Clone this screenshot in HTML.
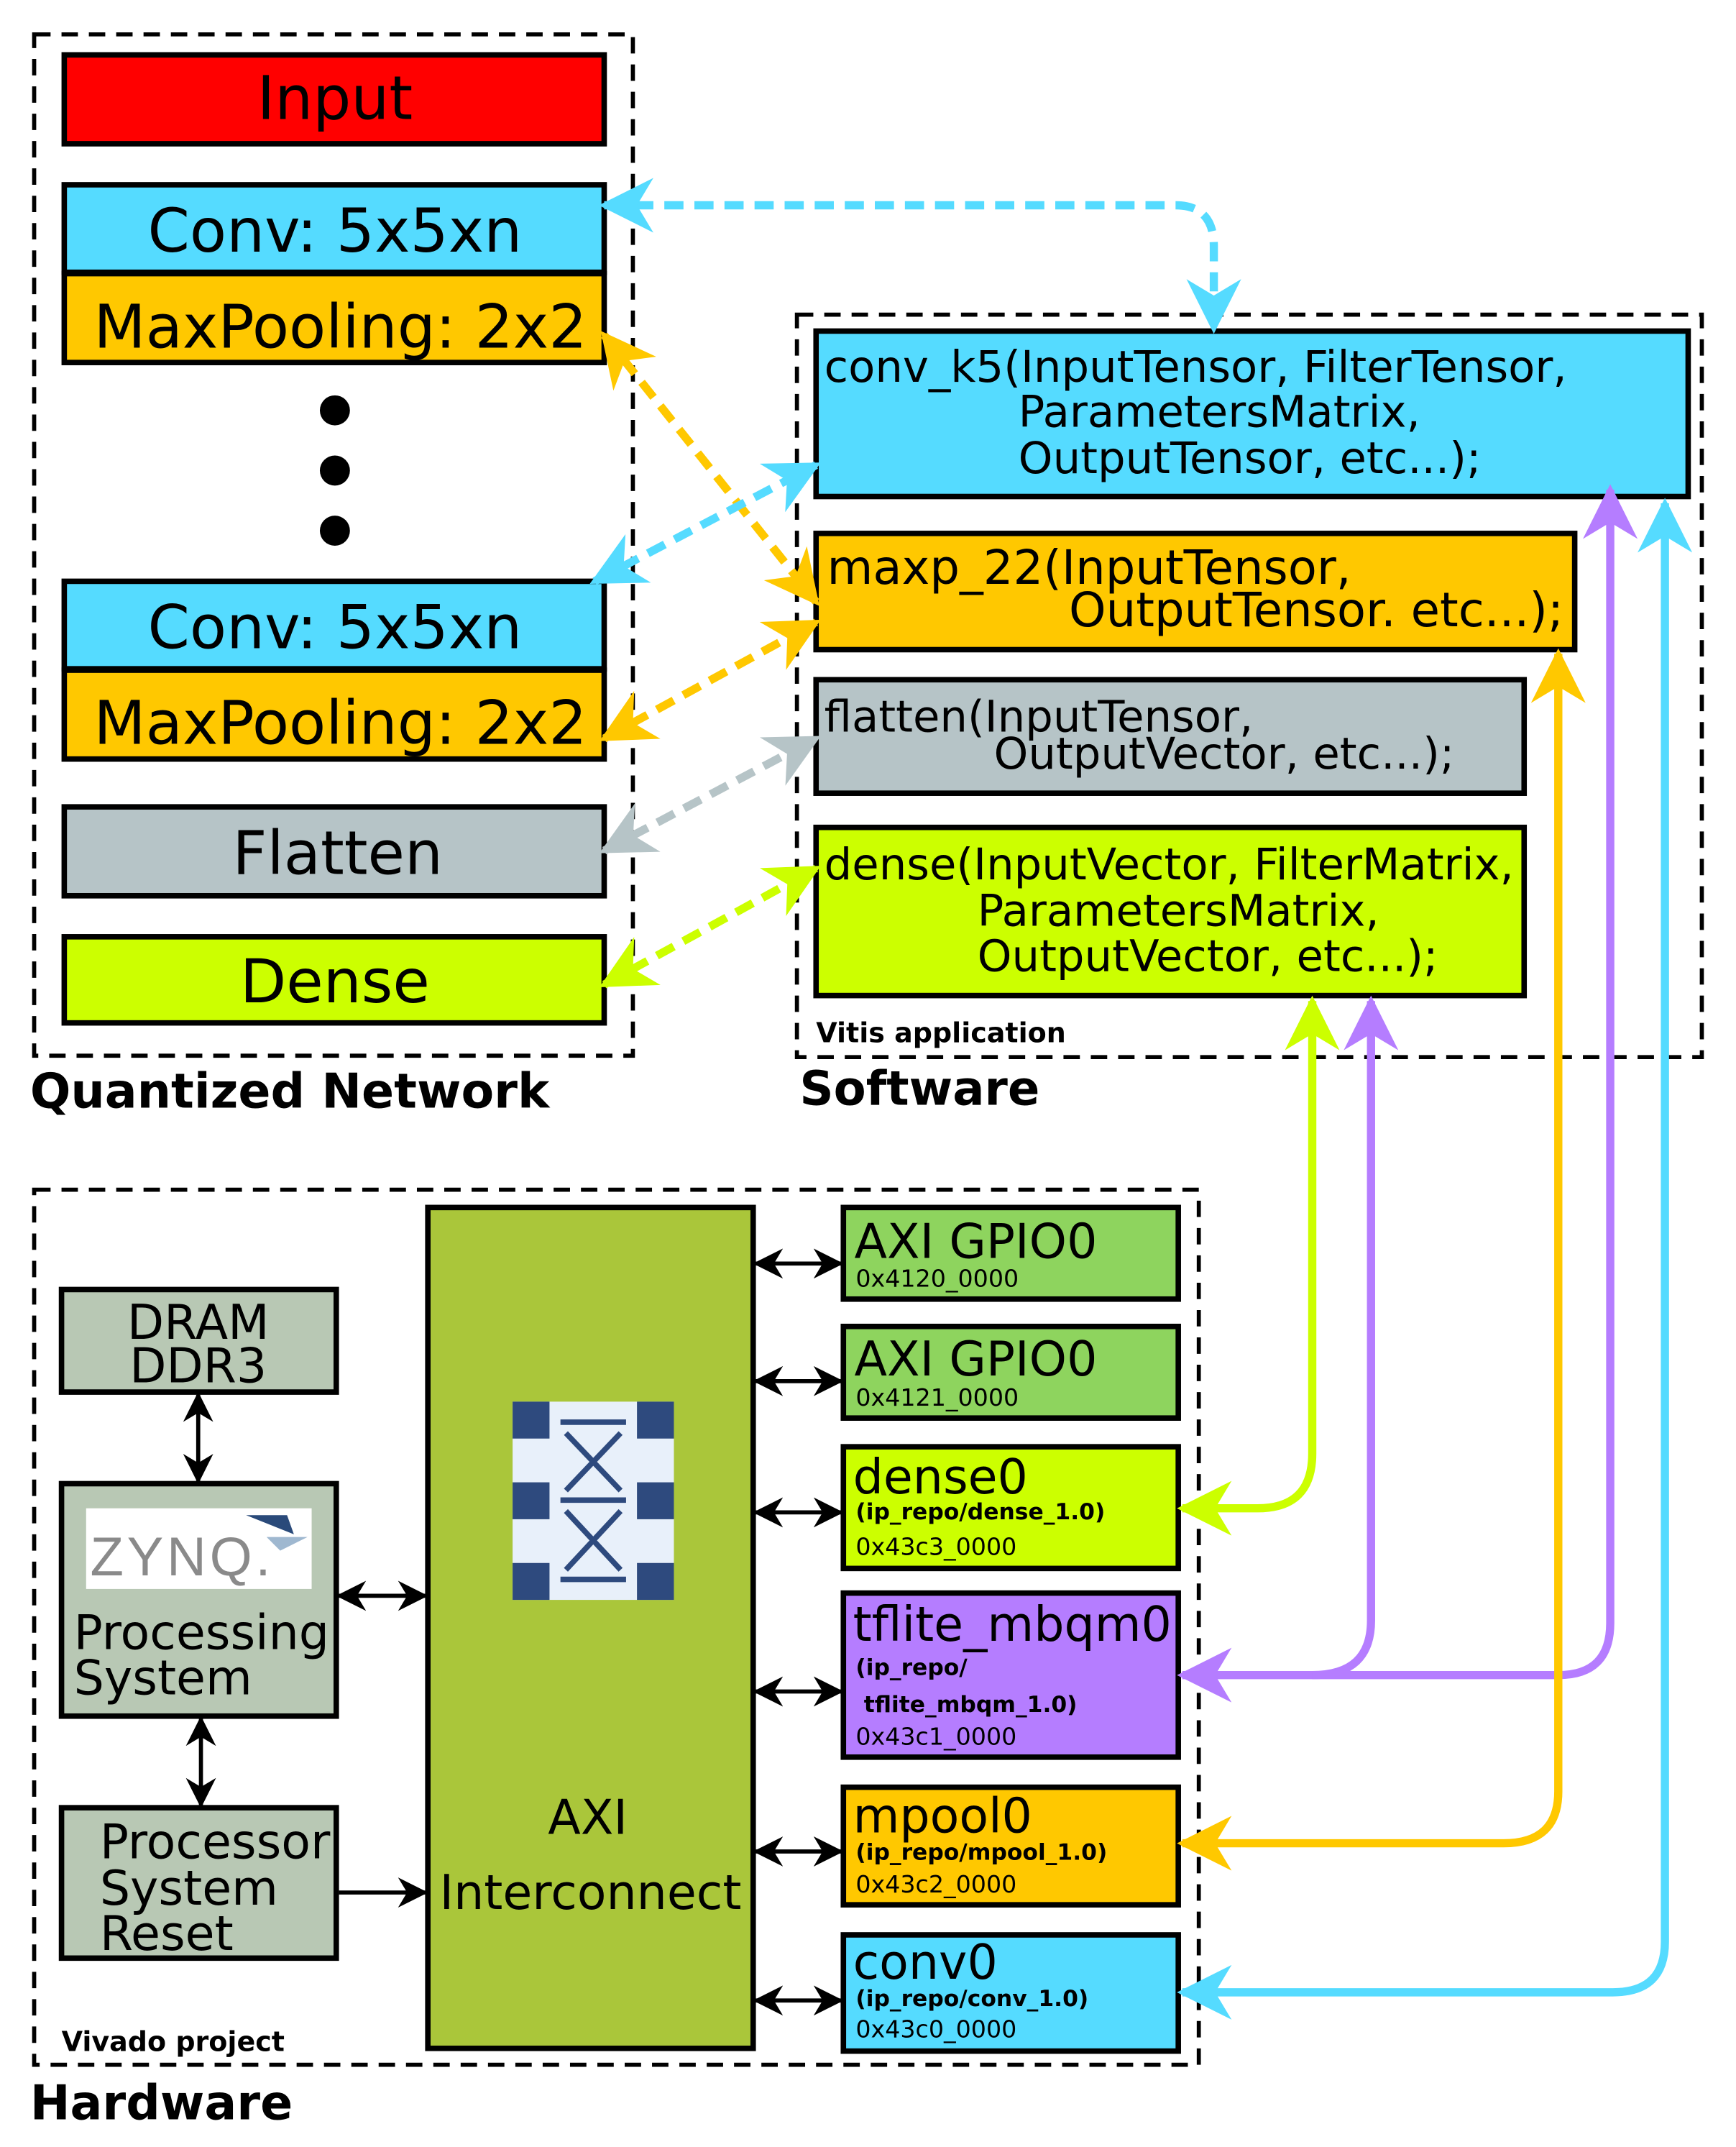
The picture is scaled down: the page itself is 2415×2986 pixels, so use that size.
<!DOCTYPE html>
<html><head><meta charset="utf-8"><style>html,body{margin:0;padding:0;background:#fff}svg{display:block}</style></head><body>
<svg width="2415" height="2986" viewBox="0 0 1270 1570" xmlns="http://www.w3.org/2000/svg" font-family="DejaVu Sans, Liberation Sans, sans-serif">
<defs>
<marker id="mc" viewBox="0 0 10 10" refX="9" refY="5" markerWidth="40" markerHeight="40" markerUnits="userSpaceOnUse" orient="auto-start-reverse"><path d="M0,0 L10,5 L0,10 L3,5 z" fill="#55dbff"/></marker>
<marker id="mo" viewBox="0 0 10 10" refX="9" refY="5" markerWidth="40" markerHeight="40" markerUnits="userSpaceOnUse" orient="auto-start-reverse"><path d="M0,0 L10,5 L0,10 L3,5 z" fill="#ffc800"/></marker>
<marker id="mg" viewBox="0 0 10 10" refX="9" refY="5" markerWidth="40" markerHeight="40" markerUnits="userSpaceOnUse" orient="auto-start-reverse"><path d="M0,0 L10,5 L0,10 L3,5 z" fill="#b6c4c7"/></marker>
<marker id="ml" viewBox="0 0 10 10" refX="9" refY="5" markerWidth="40" markerHeight="40" markerUnits="userSpaceOnUse" orient="auto-start-reverse"><path d="M0,0 L10,5 L0,10 L3,5 z" fill="#ccff00"/></marker>
<marker id="mp" viewBox="0 0 10 10" refX="9" refY="5" markerWidth="40" markerHeight="40" markerUnits="userSpaceOnUse" orient="auto-start-reverse"><path d="M0,0 L10,5 L0,10 L3,5 z" fill="#b57dff"/></marker>
<marker id="mk" viewBox="0 0 10 10" refX="9" refY="5" markerWidth="22" markerHeight="22" markerUnits="userSpaceOnUse" orient="auto-start-reverse"><path d="M0,0 L10,5 L0,10 L3,5 z" fill="#000"/></marker>
</defs>
<g fill="none" stroke="#000" stroke-width="3" stroke-dasharray="12,8">
<rect x="25" y="25" width="438" height="747"/>
<rect x="583" y="230" width="662" height="543"/>
<rect x="25" y="870" width="852" height="640"/>
</g>
<g stroke="#000" stroke-width="4">
<rect x="47" y="40" width="395" height="65" fill="#ff0000"/>
<rect x="47" y="135" width="395" height="64" fill="#55dbff"/>
<rect x="47" y="200" width="395" height="65" fill="#ffc800"/>
<rect x="47" y="425" width="395" height="64" fill="#55dbff"/>
<rect x="47" y="490" width="395" height="65" fill="#ffc800"/>
<rect x="47" y="590" width="395" height="65" fill="#b6c4c7"/>
<rect x="47" y="685" width="395" height="63" fill="#ccff00"/>
<rect x="597" y="242" width="638" height="121" fill="#55dbff"/>
<rect x="597" y="390" width="555" height="85" fill="#ffc800"/>
<rect x="597" y="497" width="518" height="83" fill="#b6c4c7"/>
<rect x="597" y="605" width="518" height="123" fill="#ccff00"/>
<rect x="45" y="943" width="201" height="75" fill="#b8c8b4"/>
<rect x="45" y="1085" width="201" height="170" fill="#b8c8b4"/>
<rect x="45" y="1322" width="201" height="110" fill="#b8c8b4"/>
<rect x="313" y="883" width="238" height="615" fill="#aac63a"/>
<rect x="617" y="883" width="245" height="67" fill="#8ed45e"/>
<rect x="617" y="970" width="245" height="67" fill="#8ed45e"/>
<rect x="617" y="1058" width="245" height="89" fill="#ccff00"/>
<rect x="617" y="1165" width="245" height="120" fill="#b57dff"/>
<rect x="617" y="1307" width="245" height="86" fill="#ffc800"/>
<rect x="617" y="1415" width="245" height="85" fill="#55dbff"/>
</g>
<circle cx="245" cy="300" r="11"/><circle cx="245" cy="344" r="11"/><circle cx="245" cy="388" r="11"/>
<g font-size="44" text-anchor="middle">
<text x="245" y="87">Input</text>
<text x="245" y="184">Conv: 5x5xn</text>
<text x="249" y="254">MaxPooling: 2x2</text>
<text x="245" y="474">Conv: 5x5xn</text>
<text x="249" y="544">MaxPooling: 2x2</text>
<text x="247" y="639">Flatten</text>
<text x="245" y="733">Dense</text>
</g>
<g font-size="32">
<text x="603" y="279">conv_k5(InputTensor, FilterTensor,</text>
<text x="745" y="312">ParametersMatrix,</text>
<text x="745" y="346">OutputTensor, etc...);</text>
<text x="605" y="427" font-size="34.5">maxp_22(InputTensor,</text>
<text x="782" y="458" font-size="34.5">OutputTensor. etc...);</text>
<text x="603" y="535">flatten(InputTensor,</text>
<text x="727" y="562">OutputVector, etc...);</text>
<text x="603" y="643">dense(InputVector, FilterMatrix,</text>
<text x="715" y="677">ParametersMatrix,</text>
<text x="715" y="710">OutputVector, etc...);</text>
</g>
<g font-weight="bold">
<text x="22" y="810" font-size="35">Quantized Network</text>
<text x="585" y="808" font-size="34.5">Software</text>
<text x="22" y="1550" font-size="35">Hardware</text>
<text x="597" y="762" font-size="20">Vitis application</text>
<text x="45" y="1500" font-size="20">Vivado project</text>
</g>
<g font-size="35">
<text x="145" y="979" text-anchor="middle">DRAM</text>
<text x="145" y="1011" text-anchor="middle">DDR3</text>
<text x="54" y="1206">Processing</text>
<text x="54" y="1239">System</text>
<text x="73" y="1359">Processor</text>
<text x="73" y="1393">System</text>
<text x="73" y="1426">Reset</text>
<text x="430" y="1341" text-anchor="middle">AXI</text>
<text x="432" y="1396" text-anchor="middle">Interconnect</text>
<text x="625" y="920">AXI GPIO0</text>
<text x="625" y="1006">AXI GPIO0</text>
<text x="624" y="1092">dense0</text>
<text x="624" y="1200">tflite_mbqm0</text>
<text x="624" y="1340">mpool0</text>
<text x="624" y="1447">conv0</text>
</g>
<g font-size="17.5">
<text x="626" y="941">0x4120_0000</text>
<text x="626" y="1028">0x4121_0000</text>
<text x="626" y="1137">0x43c3_0000</text>
<text x="626" y="1276">0x43c1_0000</text>
<text x="626" y="1384">0x43c2_0000</text>
<text x="626" y="1490">0x43c0_0000</text>
</g>
<g font-size="16.5" font-weight="bold">
<text x="626" y="1111">(ip_repo/dense_1.0)</text>
<text x="626" y="1225">(ip_repo/</text>
<text x="632" y="1252">tflite_mbqm_1.0)</text>
<text x="626" y="1360">(ip_repo/mpool_1.0)</text>
<text x="626" y="1467">(ip_repo/conv_1.0)</text>
</g>
<rect x="63" y="1103" width="165" height="59" fill="#fff"/>
<text x="66" y="1152" font-size="40" fill="#8a8a8a" font-family="Liberation Sans, sans-serif" textLength="132">ZYNQ.</text>
<path d="M180 1108 L210 1108 L215 1122 Z" fill="#2a4a7a"/><path d="M195 1124 L225 1124 L205 1134 Z" fill="#9fb8d0"/>
<rect x="375" y="1025" width="118" height="145" fill="#e8f0fa"/>
<g fill="#2e4a7e">
<rect x="375" y="1025" width="27" height="27"/><rect x="466" y="1025" width="27" height="27"/>
<rect x="375" y="1084" width="27" height="27"/><rect x="466" y="1084" width="27" height="27"/>
<rect x="375" y="1143" width="27" height="27"/><rect x="466" y="1143" width="27" height="27"/>
</g>
<g stroke="#2e4a7e" stroke-width="4"><path d="M410 1040 H458 M410 1097 H458 M410 1155 H458 M414 1048 L454 1090 M454 1048 L414 1090 M414 1105 L454 1148 M454 1105 L414 1148"/></g>
<g stroke="#000" stroke-width="3" fill="none" marker-start="url(#mk)" marker-end="url(#mk)">
<path d="M553 924 H615"/><path d="M553 1010 H615"/><path d="M553 1106 H615"/><path d="M553 1237 H615"/><path d="M553 1354 H615"/><path d="M553 1463 H615"/>
<path d="M145 1020 V1083"/><path d="M147 1257 V1320"/><path d="M248 1167 H311"/>
</g>
<path d="M248 1384 H311" stroke="#000" stroke-width="3" marker-end="url(#mk)"/>
<g fill="none" stroke-width="6">
<path d="M865 1457 H1180 Q1218 1457 1218 1420 V368" stroke="#55dbff" marker-start="url(#mc)" marker-end="url(#mc)"/>
<path d="M865 1225 H1140 Q1178 1225 1178 1187 V358" stroke="#b57dff" marker-start="url(#mp)" marker-end="url(#mp)"/>
<path d="M960 1225 Q1003 1225 1003 1185 V732" stroke="#b57dff" marker-end="url(#mp)"/>
<path d="M865 1348 H1100 Q1140 1348 1140 1310 V478" stroke="#ffc800" marker-start="url(#mo)" marker-end="url(#mo)"/>
<path d="M865 1103 H920 Q960 1103 960 1063 V732" stroke="#ccff00" marker-start="url(#ml)" marker-end="url(#ml)"/>
</g>
<g fill="none" stroke-width="6" stroke-dasharray="14,8">
<path d="M442 150 H860 Q888 150 888 180 V240" stroke="#55dbff" marker-start="url(#mc)" marker-end="url(#mc)"/>
<path d="M442 245 L597 440" stroke="#ffc800" marker-start="url(#mo)" marker-end="url(#mo)"/>
<path d="M435 425 L597 340" stroke="#55dbff" marker-start="url(#mc)" marker-end="url(#mc)"/>
<path d="M442 540 L597 455" stroke="#ffc800" marker-start="url(#mo)" marker-end="url(#mo)"/>
<path d="M442 622 L597 540" stroke="#b6c4c7" marker-start="url(#mg)" marker-end="url(#mg)"/>
<path d="M442 720 L597 635" stroke="#ccff00" marker-start="url(#ml)" marker-end="url(#ml)"/>
</g>
</svg>
</body></html>
